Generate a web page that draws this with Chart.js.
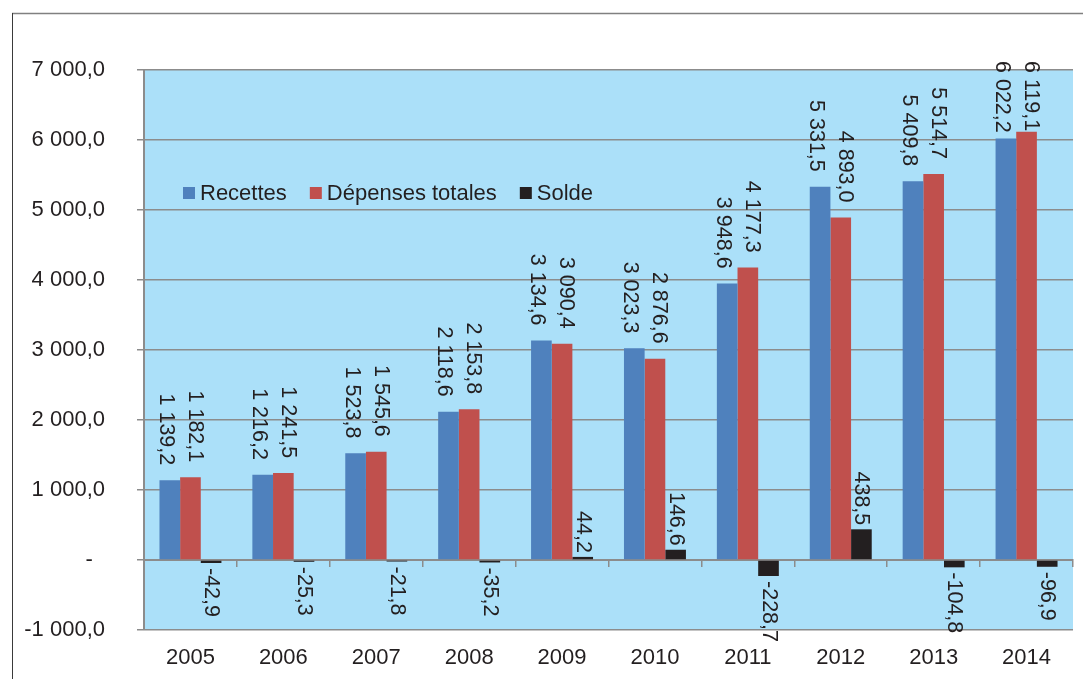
<!DOCTYPE html>
<html lang="fr">
<head>
<meta charset="utf-8">
<title>Recettes, dépenses totales et solde 2005-2014</title>
<script src="https://cdn.jsdelivr.net/npm/chart.js@4/dist/chart.umd.min.js"></script>
<style>
  html, body { margin: 0; padding: 0; background: #fff; }
  #wrap { position: relative; width: 1083px; height: 679px; }
</style>
</head>
<body>
<div id="wrap"><canvas id="chart"></canvas></div>
<script>
const years = ['2005', '2006', '2007', '2008', '2009', '2010', '2011', '2012', '2013', '2014'];
const recettes = [1139.2, 1216.2, 1523.8, 2118.6, 3134.6, 3023.3, 3948.6, 5331.5, 5409.8, 6022.2];
const depenses = [1182.1, 1241.5, 1545.6, 2153.8, 3090.4, 2876.6, 4177.3, 4893.0, 5514.7, 6119.1];
const solde = [-42.9, -25.3, -21.8, -35.2, 44.2, 146.6, -228.7, 438.5, -104.8, -96.9];

const FONT = '"Liberation Sans", Arial, sans-serif';
const INK = '#231f20';
const GRID = '#8c8c8c';

// 1 234,5 style numbers
function frNum(v) {
  const parts = Math.abs(v).toFixed(1).split('.');
  const int = parts[0].replace(/\B(?=(\d{3})+(?!\d))/g, ' ');
  return (v < 0 ? '-' : '') + int + ',' + parts[1];
}

// white page, outer frame and blue plot background
const frame = {
  id: 'frame',
  beforeDraw(chart) {
    const { ctx, chartArea: a } = chart;
    ctx.save();
    ctx.fillStyle = '#abe0f9';
    ctx.fillRect(a.left, a.top, a.right - a.left, a.bottom - a.top);
    ctx.strokeStyle = '#808080';
    ctx.lineWidth = 1.5;
    ctx.beginPath();
    ctx.moveTo(12, 13.5);
    ctx.lineTo(chart.width, 13.5);
    ctx.stroke();
    ctx.strokeStyle = '#3a3a3a';
    ctx.lineWidth = 1;
    ctx.beginPath();
    ctx.moveTo(12.5, 13);
    ctx.lineTo(12.5, chart.height);
    ctx.stroke();
    ctx.restore();
  }
};

// legend sitting inside the plot
const innerLegend = {
  id: 'innerLegend',
  afterDraw(chart) {
    const ctx = chart.ctx;
    ctx.save();
    ctx.font = '22px ' + FONT;
    ctx.textBaseline = 'middle';
    let x = 183;
    const y = 193;
    chart.data.datasets.forEach(ds => {
      ctx.fillStyle = ds.backgroundColor;
      ctx.fillRect(x, y - 6, 12, 12);
      x += 17;
      ctx.fillStyle = INK;
      ctx.fillText(ds.label, x, y + 1);
      x += ctx.measureText(ds.label).width + 23;
    });
    ctx.restore();
  }
};

// vertical value labels above / below each bar
const valueLabels = {
  id: 'valueLabels',
  afterDatasetsDraw(chart) {
    const ctx = chart.ctx;
    ctx.save();
    ctx.font = '21.5px ' + FONT;
    ctx.fillStyle = INK;
    ctx.textBaseline = 'middle';
    ctx.textAlign = 'left';
    const rows = [];
    chart.data.datasets.forEach((ds, di) => {
      const meta = chart.getDatasetMeta(di);
      rows[di] = meta.data.map((bar, i) => {
        const v = ds.data[i];
        const text = frNum(v);
        const w = ctx.measureText(text).width;
        let start;
        if (v >= 0) {
          const gap = text.includes(' ') ? 15 : 4;
          start = Math.max(bar.y - gap - w, 61);
        } else {
          start = bar.y + 5;
        }
        return { x: bar.x, start, end: start + w, text };
      });
    });
    // push the two tall labels of a year apart when they collide
    rows[0].forEach((a, i) => {
      const b = rows[1][i];
      if (a.start < b.end && b.start < a.end && b.x - a.x < 29) {
        const s = (29 - (b.x - a.x)) / 2;
        a.x -= s;
        b.x += s;
      }
    });
    rows.flat().forEach(l => {
      ctx.save();
      ctx.translate(l.x, l.start);
      ctx.rotate(Math.PI / 2);
      ctx.fillText(l.text, 0, 0);
      ctx.restore();
    });
    ctx.restore();
  }
};

new Chart(document.getElementById('chart'), {
  type: 'bar',
  data: {
    labels: years,
    datasets: [
      { label: 'Recettes', data: recettes, backgroundColor: '#4f81bd' },
      { label: 'Dépenses totales', data: depenses, backgroundColor: '#c0504d' },
      { label: 'Solde', data: solde, backgroundColor: INK }
    ]
  },
  options: {
    responsive: true,
    maintainAspectRatio: false,
    animation: false,
    layout: { padding: { top: 70, right: 10, left: 0, bottom: 0 } },
    datasets: { bar: { categoryPercentage: 0.667, barPercentage: 1.0 } },
    plugins: { legend: { display: false }, tooltip: { enabled: false } },
    scales: {
      x: {
        type: 'category',
        position: 'bottom',
        grid: { display: false, drawTicks: false },
        border: { display: false },
        ticks: { color: INK, font: { family: FONT, size: 22 }, padding: 15, maxRotation: 0 },
        afterFit(s) { s.height = 49; }
      },
      x2: {
        type: 'category',
        position: { y: 0 },
        offset: true,
        grid: { offset: true, drawOnChartArea: false, drawTicks: true, tickLength: 6, color: GRID, lineWidth: 1.5 },
        border: { display: true, color: GRID, width: 2 },
        ticks: { display: false }
      },
      y: {
        min: -1000,
        max: 7000,
        ticks: {
          stepSize: 1000,
          color: INK,
          font: { family: FONT, size: 22 },
          padding: 32,
          callback: v => (v === 0 ? '-  ' : frNum(v))
        },
        grid: { color: GRID, lineWidth: 1.5, tickLength: 7 },
        border: { color: GRID, width: 2 },
        afterFit(s) { s.width = 144; }
      }
    }
  },
  plugins: [frame, innerLegend, valueLabels]
});
</script>
</body>
</html>
